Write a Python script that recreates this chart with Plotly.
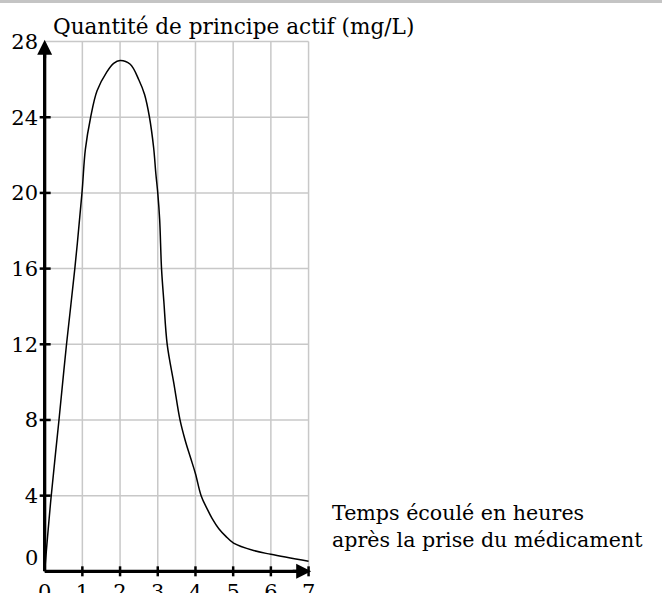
import plotly.graph_objects as go

# Concentration of the active substance over time (hours, mg/L)
hours = [0, 0.17, 0.38, 0.58, 0.80, 0.99, 1.08, 1.22, 1.39, 1.65, 1.83, 2.0,
         2.27, 2.50, 2.65, 2.78, 2.89, 2.95, 3.0, 3.05, 3.10, 3.16, 3.25,
         3.43, 3.59, 3.73, 3.87, 4.0, 4.15, 4.31, 4.44, 4.62, 4.80, 5.01, 5.54, 6.0, 7.0]
conc = [0, 3.9, 8.0, 12.0, 16.0, 20.0, 22.3, 24.0, 25.4, 26.4, 26.85, 27.0,
        26.8, 25.97, 25.2, 24.0, 22.4, 21.0, 20.0, 18.6, 16.0, 14.3, 12.0,
        9.9, 8.0, 6.9, 6.0, 5.16, 4.0, 3.3, 2.8, 2.25, 1.86, 1.49, 1.1, 0.9, 0.53]

x_ticks = [0, 1, 2, 3, 4, 5, 6, 7]
y_ticks = [4, 8, 12, 16, 20, 24, 28]

title_text = "Quantité de principe actif (mg/L)"
xlabel_text = "Temps écoulé en heures<br>après la prise du médicament"

FONT = "DejaVu Serif"
FS = 21
W, H = 662, 593
ML, MR, MT, MB = 39, 344, 34, 16
PW, PH = W - ML - MR, H - MT - MB


def px_x(p):
    return (p - ML) / PW


def px_y(p):
    return (H - MB - p) / PH


fig = go.Figure()
fig.add_trace(go.Scatter(x=hours, y=conc, mode="lines",
                         line=dict(color="black", width=1.5, shape="spline", smoothing=1.0),
                         hoverinfo="skip", showlegend=False))

shapes = []
grid = dict(color="#c8c8c8", width=1.5)
for v in x_ticks[1:]:
    shapes.append(dict(type="line", xref="x", yref="y", x0=v, x1=v, y0=0, y1=28, line=grid, layer="below"))
for v in y_ticks:
    shapes.append(dict(type="line", xref="x", yref="y", x0=0, x1=7, y0=v, y1=v, line=grid, layer="below"))

# axes
axis_line = dict(color="black", width=3.3)
shapes.append(dict(type="line", xref="x", yref="y", x0=0, x1=0, y0=0, y1=27.6, line=axis_line))
shapes.append(dict(type="line", xref="x", yref="y", x0=0, x1=6.85, y0=0, y1=0, line=axis_line))

# tick marks crossing the axes
for v in y_ticks[:-1]:
    shapes.append(dict(type="line", xref="x", yref="y", xsizemode="pixel", xanchor=0,
                       x0=-5, x1=6, y0=v, y1=v, line=dict(color="black", width=2.5)))
for v in x_ticks[1:]:
    shapes.append(dict(type="line", xref="x", yref="y", ysizemode="pixel", yanchor=0,
                       x0=v, x1=v, y0=-5, y1=5, line=dict(color="black", width=2.5)))

# thin grey band along the top edge
shapes.append(dict(type="rect", xref="paper", yref="paper", x0=px_x(0), x1=px_x(W),
                   y0=px_y(3), y1=px_y(0), fillcolor="#c4c4c4", line=dict(width=0)))

annotations = [
    # arrowheads on the axes
    dict(x=0, y=28.1, xref="x", yref="y", ax=0, ay=20, showarrow=True, text="",
         arrowhead=2, arrowsize=1.0, arrowwidth=3, arrowcolor="black"),
    dict(x=7.07, y=0, xref="x", yref="y", ax=-20, ay=0, showarrow=True, text="",
         arrowhead=2, arrowsize=1.0, arrowwidth=3, arrowcolor="black"),
    dict(x=px_x(51), y=px_y(26), xref="paper", yref="paper", text=title_text,
         showarrow=False, xanchor="left", yanchor="middle",
         font=dict(family=FONT, size=21.6, color="black")),
    dict(x=px_x(330), y=px_y(526), xref="paper", yref="paper", text=xlabel_text,
         showarrow=False, xanchor="left", yanchor="middle", align="left",
         font=dict(family=FONT, size=20.6, color="black")),
    dict(x=0, y=0, xref="x", yref="y", text="0", showarrow=False,
         xanchor="right", yanchor="middle", xshift=-5, yshift=13,
         font=dict(family=FONT, size=FS, color="black")),
]

fig.update_layout(
    width=W, height=H,
    margin=dict(l=ML, r=MR, t=MT, b=MB, pad=0),
    paper_bgcolor="white", plot_bgcolor="white",
    shapes=shapes, annotations=annotations,
    xaxis=dict(range=[-0.15, 7.25], showgrid=False, zeroline=False, showline=False,
               automargin=False,
               tickmode="array", tickvals=x_ticks, ticktext=[str(v) for v in x_ticks],
               ticks="", tickfont=dict(family=FONT, size=FS, color="black")),
    yaxis=dict(range=[-0.3, 28.4], showgrid=False, zeroline=False, showline=False,
               automargin=False,
               tickmode="array", tickvals=y_ticks, ticktext=[str(v) for v in y_ticks],
               ticks="", tickfont=dict(family=FONT, size=FS, color="black")),
    font=dict(family=FONT, size=FS, color="black"),
)

fig.write_html("out.html")
